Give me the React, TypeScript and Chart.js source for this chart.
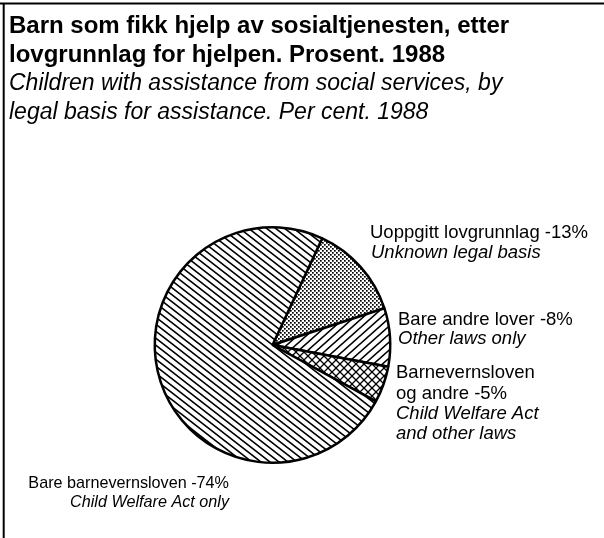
import React, { useEffect, useRef } from "react";
import { Chart, registerables } from "chart.js";

Chart.register(...registerables);

// ---- Data ----
const categoriesNo = ["Uoppgitt lovgrunnlag", "Bare andre lover", "Barnevernsloven og andre", "Bare barnevernsloven"];
const categoriesEn = ["Unknown legal basis", "Other laws only", "Child Welfare Act and other laws", "Child Welfare Act only"];
const percentages = [13, 8, 5, 74];
const titleLines = ["Barn som fikk hjelp av sosialtjenesten, etter", "lovgrunnlag for hjelpen. Prosent. 1988"];
const subtitleLines = ["Children with assistance from social services, by", "legal basis for assistance. Per cent. 1988"];
const patternKinds = ["dots", "forward", "cross", "back"];

const FONT = '"Liberation Sans", Arial, Helvetica, sans-serif';

function makePattern(kind: string): CanvasPattern | string {
  const c = document.createElement("canvas");
  let w = 8, h = 8;
  if (kind === "back") { w = 9; h = 7; }
  if (kind === "forward") { w = 9; h = 8; }
  if (kind === "cross") { w = 8; h = 8; }
  if (kind === "dots") { w = 4; h = 4; }
  c.width = w; c.height = h;
  const g = c.getContext("2d")!;
  g.fillStyle = "#fff";
  g.fillRect(0, 0, w, h);
  g.strokeStyle = "#000";
  g.fillStyle = "#000";
  g.lineWidth = kind === "cross" ? 1.3 : 1.6;
  const back = () => {
    g.beginPath();
    g.moveTo(-w, -h); g.lineTo(2 * w, 2 * h);
    g.moveTo(0, -h); g.lineTo(2 * w, h);
    g.moveTo(-w, 0); g.lineTo(w, 2 * h);
    g.stroke();
  };
  const fwd = () => {
    g.beginPath();
    g.moveTo(-w, 2 * h); g.lineTo(2 * w, -h);
    g.moveTo(-w, h); g.lineTo(w, -h);
    g.moveTo(0, 2 * h); g.lineTo(2 * w, 0);
    g.stroke();
  };
  if (kind === "back") back();
  if (kind === "forward") fwd();
  if (kind === "cross") { back(); fwd(); }
  if (kind === "dots") {
    g.fillRect(0, 0, 1.7, 1.7);
    g.fillRect(2, 2, 1.7, 1.7);
  }
  return g.createPattern(c, "repeat") || "#888";
}

const labelPlugin = {
  id: "figureText",
  afterDraw(chart: any) {
    const ctx: CanvasRenderingContext2D = chart.ctx;
    ctx.save();
    ctx.fillStyle = "#000";
    ctx.textBaseline = "alphabetic";
    ctx.textAlign = "left";

    // frame
    ctx.strokeStyle = "#000";
    ctx.lineWidth = 2;
    ctx.beginPath();
    ctx.moveTo(0, 3.5); ctx.lineTo(604, 3.5);
    ctx.moveTo(3.7, 3); ctx.lineTo(3.7, 538);
    ctx.stroke();

    // titles
    ctx.font = `bold 24px ${FONT}`;
    ctx.fillText(titleLines[0], 9, 33);
    ctx.fillText(titleLines[1], 9, 61.5);
    ctx.font = `italic 23px ${FONT}`;
    ctx.fillText(subtitleLines[0], 9, 90);
    ctx.fillText(subtitleLines[1], 9, 118.5);

    // slice labels
    const pct = (i: number) => ` -${percentages[i]}%`;
    const big = 18.5;
    const reg = `${big}px ${FONT}`;
    const ita = `italic ${big}px ${FONT}`;

    ctx.font = reg;
    ctx.fillText(categoriesNo[0] + pct(0), 370, 237.5);
    ctx.font = ita;
    ctx.fillText(categoriesEn[0], 371, 257.5);

    ctx.font = reg;
    ctx.fillText(categoriesNo[1] + pct(1), 398, 325);
    ctx.font = ita;
    ctx.fillText(categoriesEn[1], 398, 344);

    const no2 = categoriesNo[2].split(" ");
    const en2 = categoriesEn[2].split(" ");
    ctx.font = reg;
    ctx.fillText(no2[0], 396, 378);
    ctx.fillText(no2.slice(1).join(" ") + pct(2), 396, 398.5);
    ctx.font = ita;
    ctx.fillText(en2.slice(0, 3).join(" "), 396, 419);
    ctx.fillText(en2.slice(3).join(" "), 396, 439);

    ctx.textAlign = "right";
    ctx.font = `16.2px ${FONT}`;
    ctx.fillText(categoriesNo[3] + pct(3), 229, 488);
    ctx.font = `italic 16.2px ${FONT}`;
    ctx.fillText(categoriesEn[3], 229, 507);

    ctx.restore();
  },
};

export default function App() {
  const ref = useRef<HTMLCanvasElement | null>(null);
  useEffect(() => {
    if (!ref.current) return;
    const bgs = patternKinds.map((k) => makePattern(k));
    const chart = new Chart(ref.current, {
      type: "pie",
      data: {
        labels: categoriesNo,
        datasets: [
          {
            data: percentages,
            backgroundColor: bgs as any,
            borderColor: "#000",
            borderWidth: 2.5,
          },
        ],
      },
      options: {
        responsive: false,
        animation: false,
        events: [],
        rotation: 25,
        layout: { padding: { left: 153, right: 212, top: 226, bottom: 74 } },
        plugins: {
          legend: { display: false },
          title: { display: false },
          tooltip: { enabled: false },
        },
      },
      plugins: [labelPlugin],
    });
    return () => chart.destroy();
  }, []);
  return (
    <div style={{ position: "absolute", left: 0, top: 0, width: 604, height: 538, background: "#fff" }}>
      <canvas ref={ref} width={604} height={538} style={{ display: "block" }} />
    </div>
  );
}
